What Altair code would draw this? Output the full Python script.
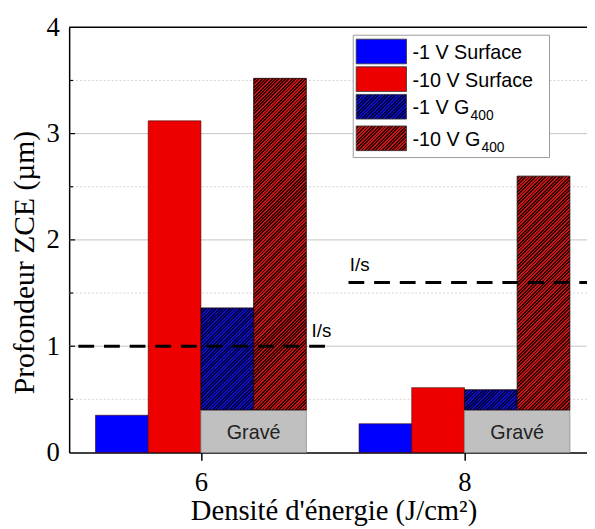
import altair as alt
import pandas as pd

# ---------------- data ----------------
energy = [6, 8]
series = ["-1 V Surface", "-10 V Surface", "-1 V G400", "-10 V G400"]
surf_1v = [0.35, 0.27]
surf_10v = [3.12, 0.61]
g400_1v = [1.36, 0.59]
g400_10v = [3.52, 2.60]
grave_depth = [0.40, 0.40]
grave_label = ["Gravé", "Gravé"]
ls_y = [1.0, 1.6]
ls_x_start = [5.07, 7.12]
ls_x_end = [6.95, 8.93]
ls_label_x = [6.84, 7.13]
ls_label_y = [1.09, 1.71]
ls_label = ["I/s", "I/s"]
legend_main = ["-1 V Surface", "-10 V Surface", "-1 V G", "-10 V G"]
legend_sub = ["", "", "400", "400"]
y_ticks = [0, 1, 2, 3, 4]
y_major = [1, 2, 3]
y_minor = [0.5, 1.5, 2.5, 3.5]

# ---------------- layout / style ----------------
W, H = 525, 431
XDOM = [5, 8.93]
YDOM = [0, 4]
BARW = 0.4
OFFS = [-0.8, -0.4, 0.0, 0.4]
BLUE, RED = "#0000ff", "#ee0000"
HB = ("#1010c0", "#000040")
HR = ("#c81414", "#300202")
SERIF, SANS = "Liberation Serif", "Liberation Sans"

px_x = W / (XDOM[1] - XDOM[0])
px_y = H / (YDOM[1] - YDOM[0])


def hatch(w, h, cols, period=3.4, frac=0.48):
    n = max(1, int(round((w + h) / period)))
    stops = []
    for i in range(n):
        a, b, c = i / n, (i + frac) / n, (i + 1) / n
        stops += [alt.GradientStop(offset=a, color=cols[0]),
                  alt.GradientStop(offset=b, color=cols[0]),
                  alt.GradientStop(offset=b, color=cols[1]),
                  alt.GradientStop(offset=c, color=cols[1])]
    s = w + h
    d = w * w + h * h
    return alt.LinearGradient(gradient="linear", stops=stops,
                              x1=0, y1=0, x2=w * s / d, y2=h * s / d)


xs = alt.Scale(domain=XDOM, nice=False, zero=False)
ys = alt.Scale(domain=YDOM, nice=False)
xaxis = alt.Axis(values=energy, title="Densité d'énergie (J/cm²)", grid=False,
                 domainColor="black", domainWidth=1.5, tickColor="black",
                 tickWidth=1.5, tickSize=8, labelFont=SERIF, labelFontSize=27,
                 labelColor="black", labelPadding=10, titleFont=SERIF,
                 titleFontSize=29, titleFontWeight="normal", titleColor="black",
                 titleX=268, titleY=68, titleBaseline="alphabetic",
                 titleAlign="center", format="d", labelFlush=False)
yaxis = alt.Axis(values=y_ticks, title="Profondeur ZCE (µm)", grid=False,
                 domainColor="black", domainWidth=1.5, ticks=False, tickSize=0,
                 labelFont=SERIF, labelFontSize=27, labelColor="black",
                 labelPadding=10, titleFont=SERIF, titleFontSize=30,
                 titleFontWeight="normal", titleColor="black", titleX=-45,
                 titleY=238, titleAngle=270, titleAlign="center",
                 titleBaseline="middle", format="d")


def X(f):
    return alt.X(f, type="quantitative", scale=xs, axis=xaxis)


def Y(f):
    return alt.Y(f, type="quantitative", scale=ys, axis=yaxis)


layers = []

# grid lines
layers.append(alt.Chart(pd.DataFrame({"y": y_minor})).mark_rule(
    color="#d4d4d4", strokeWidth=1, strokeDash=[2, 2]).encode(y=Y("y")))
layers.append(alt.Chart(pd.DataFrame({"y": y_major})).mark_rule(
    color="#c4c4c4", strokeWidth=1).encode(y=Y("y")))

# solid bars (surface)
rows = []
for si, vals in enumerate([surf_1v, surf_10v]):
    for e, v in zip(energy, vals):
        rows.append({"series": series[si], "x0": e + OFFS[si],
                     "x1": e + OFFS[si] + BARW, "y0": 0, "y1": v})
layers.append(alt.Chart(pd.DataFrame(rows)).mark_rect(
    stroke="#400000", strokeWidth=0.6).encode(
    x=X("x0"), x2="x1", y=Y("y0"), y2="y1",
    fill=alt.Fill("series:N", scale=alt.Scale(domain=series[:2], range=[BLUE, RED]),
                  legend=None)))

# etched (Gravé) boxes
gdf = pd.DataFrame({"x0": [e + OFFS[2] for e in energy],
                    "x1": [e + OFFS[3] + BARW for e in energy],
                    "y0": [0, 0], "y1": grave_depth, "label": grave_label,
                    "xc": [e + 0.4 for e in energy],
                    "yc": [d * 0.45 for d in grave_depth]})
layers.append(alt.Chart(gdf).mark_rect(fill="#c0c0c0", stroke="#8a8a8a",
                                       strokeWidth=0.8).encode(
    x=X("x0"), x2="x1", y=Y("y0"), y2="y1"))
layers.append(alt.Chart(gdf).mark_text(font=SANS, fontSize=20, color="#222222",
                                       baseline="middle", align="center").encode(
    x=X("xc"), y=Y("yc"), text="label:N"))

# hatched bars (G400)
bw_px = BARW * px_x
for si, vals, cols in [(2, g400_1v, HB), (3, g400_10v, HR)]:
    for e, v, d in zip(energy, vals, grave_depth):
        h_px = (v - d) * px_y
        df = pd.DataFrame({"x0": [e + OFFS[si]], "x1": [e + OFFS[si] + BARW],
                           "y0": [d], "y1": [v]})
        layers.append(alt.Chart(df).mark_rect(
            fill=hatch(bw_px, h_px, cols), stroke="#1a0000",
            strokeWidth=0.8).encode(x=X("x0"), x2="x1", y=Y("y0"), y2="y1"))

# I/s dashed lines and labels
ldf = pd.DataFrame({"x0": ls_x_start, "x1": ls_x_end, "y": ls_y,
                    "lx": ls_label_x, "ly": ls_label_y, "label": ls_label})
layers.append(alt.Chart(ldf).mark_rule(color="black", strokeWidth=3,
                                       strokeDash=[16, 10]).encode(
    x=X("x0"), x2="x1", y=Y("y")))
layers.append(alt.Chart(ldf).mark_text(font=SANS, fontSize=19, color="black",
                                       align="left", baseline="alphabetic").encode(
    x=X("lx"), y=Y("ly"), text="label:N"))

# top frame line
layers.append(alt.Chart(pd.DataFrame({"y": [YDOM[1]]})).mark_rule(
    color="black", strokeWidth=1.5).encode(y=Y("y")))

# inward y ticks
layers.append(alt.Chart(pd.DataFrame({"y": y_major})).mark_rule(
    color="black", strokeWidth=1.2).encode(x=alt.value(0), x2=alt.value(6), y=Y("y")))
layers.append(alt.Chart(pd.DataFrame({"y": y_minor})).mark_rule(
    color="black", strokeWidth=1.2).encode(x=alt.value(0), x2=alt.value(4), y=Y("y")))

# legend
LX0, LX1, LY0, LY1 = 288, 487, 8, 132
layers.append(alt.Chart(pd.DataFrame({"a": [0]})).mark_rect(
    fill="white", stroke="#9a9a9a", strokeWidth=1).encode(
    x=alt.value(LX0), x2=alt.value(LX1), y=alt.value(LY0), y2=alt.value(LY1)))
row_top = [12, 40, 68, 100]
sw_h = 25
sw_x0, sw_x1 = 291, 342
fills = [BLUE, RED, hatch(sw_x1 - sw_x0, sw_h, HB), hatch(sw_x1 - sw_x0, sw_h, HR)]
main_w = {"-1 V G": 58, "-10 V G": 69}
for i in range(4):
    t = row_top[i]
    layers.append(alt.Chart(pd.DataFrame({"label": [legend_main[i]]})).mark_rect(
        fill=fills[i], stroke="#333333", strokeWidth=0.8).encode(
        x=alt.value(sw_x0), x2=alt.value(sw_x1), y=alt.value(t), y2=alt.value(t + sw_h)))
    layers.append(alt.Chart(pd.DataFrame({"label": [legend_main[i]]})).mark_text(
        font=SANS, fontSize=20, color="black", align="left",
        baseline="alphabetic").encode(
        x=alt.value(348), y=alt.value(t + 20), text="label:N"))
    if legend_sub[i]:
        layers.append(alt.Chart(pd.DataFrame({"label": [legend_sub[i]]})).mark_text(
            font=SANS, fontSize=14, color="black", align="left",
            baseline="alphabetic").encode(
            x=alt.value(348 + main_w[legend_main[i]] + 1), y=alt.value(t + 26),
            text="label:N"))

chart = alt.layer(*layers).properties(
    width=W, height=H,
    autosize=alt.AutoSizeParams(type="none"),
    padding={"left": 62, "top": 16, "right": 0, "bottom": 74},
    background="white",
).configure_view(stroke=None)

chart.save("out.html", embed_options={"renderer": "svg", "actions": False})
